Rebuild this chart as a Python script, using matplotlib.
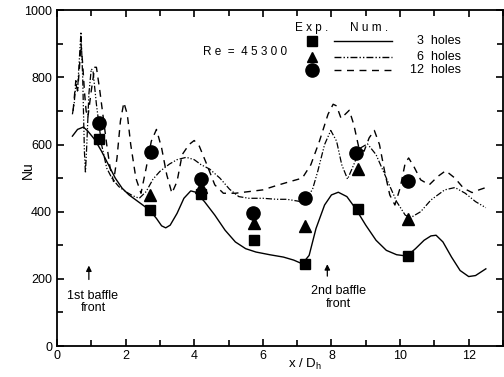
import matplotlib
matplotlib.use("Agg")
import matplotlib.pyplot as plt
from matplotlib.ticker import MultipleLocator

plt.rcParams['font.family'] = ['Liberation Sans', 'DejaVu Sans']

# Numerical curves
x3 = [0.45, 0.6, 0.77, 0.9, 1.1, 1.3, 1.5, 1.7, 1.9, 2.1, 2.3, 2.5, 2.7, 2.9, 3.05, 3.17, 3.3, 3.5,
      3.7, 3.9, 4.05, 4.3, 4.6, 4.9, 5.2, 5.5, 5.8, 6.2, 6.6, 6.9, 7.15, 7.35, 7.55, 7.8, 8.0, 8.2,
      8.45, 8.7, 9.0, 9.3, 9.6, 9.9, 10.2, 10.45, 10.7, 10.9, 11.05, 11.25, 11.5, 11.75, 12.0, 12.2, 12.5]
nu3 = [625, 645, 652, 640, 615, 580, 540, 500, 470, 450, 435, 420, 405, 380, 358, 352, 360, 395,
       440, 462, 458, 430, 390, 345, 310, 290, 280, 272, 265, 256, 245, 270, 350, 420, 450, 458,
       445, 410, 360, 315, 285, 272, 268, 290, 315, 328, 330, 310, 265, 225, 207, 210, 230]

x6 = [0.45, 0.5, 0.55, 0.6, 0.65, 0.7, 0.75, 0.8, 0.83, 0.87, 0.93, 1.0, 1.05, 1.15, 1.3, 1.45,
      1.6, 1.8, 2.0, 2.2, 2.4, 2.6, 2.8, 3.0, 3.28, 3.5, 3.77, 4.0, 4.2, 4.45, 4.75, 5.03, 5.3,
      5.6, 6.0, 6.4, 6.7, 7.0, 7.2, 7.45, 7.6, 7.8, 7.98, 8.15, 8.3, 8.47, 8.65, 8.85, 9.05,
      9.3, 9.6, 9.9, 10.15, 10.3, 10.6, 10.9, 11.3, 11.6, 11.9, 12.2, 12.5]
nu6 = [690, 720, 780, 760, 850, 935, 800, 580, 515, 600, 750, 825, 820, 720, 600, 530,
       500, 475, 460, 448, 440, 460, 497, 520, 542, 555, 562, 555, 540, 527, 500, 467, 445,
       440, 440, 437, 437, 432, 428, 467, 520, 600, 642, 610, 540, 497, 540, 590, 602,
       570, 500, 430, 390, 382, 400, 435, 465, 472, 455, 430, 412]

x12 = [0.47, 0.55, 0.6, 0.65, 0.7, 0.75, 0.8, 0.85, 0.9, 1.0, 1.1, 1.15, 1.25, 1.35, 1.45, 1.55,
       1.65, 1.75, 1.85, 1.95, 2.05, 2.15, 2.3, 2.45, 2.6, 2.75, 2.9, 3.05, 3.2, 3.35, 3.5, 3.65,
       3.85, 4.0, 4.15, 4.35, 4.6, 4.85, 5.2, 5.6, 6.0, 6.4, 6.8, 7.15, 7.4, 7.65, 7.9, 8.05,
       8.15, 8.28, 8.4, 8.52, 8.65, 8.8, 8.95, 9.1, 9.25, 9.4, 9.55, 9.7, 9.85, 10.0, 10.15,
       10.25, 10.4, 10.6, 10.85, 11.1, 11.33, 11.6, 11.85, 12.1, 12.3, 12.5]
nu12 = [700, 790, 760, 820, 900, 840, 760, 700, 680, 760, 830, 830, 760, 680, 600, 530,
        490, 560, 670, 725, 690, 600, 500, 455, 530, 610, 645, 590, 510, 455, 490, 570,
        600, 612, 595, 545, 480, 455, 455, 460, 465, 478, 490, 500, 540, 610, 690, 720,
        715, 678, 690, 702, 660, 590, 580, 620, 642, 600, 520, 450, 420, 470, 545,
        560, 535, 495, 480, 505, 522, 500, 470, 457, 465, 472]

# Experimental points
xs_sq = [1.22, 2.7, 4.2, 5.73, 7.23, 8.76, 10.24]
nu_sq = [617, 405, 452, 317, 245, 407, 269]
xs_tr = [2.72, 4.2, 5.73, 7.23, 8.76, 10.24]
nu_tr = [450, 475, 367, 357, 527, 377]
xs_ci = [1.22, 2.73, 4.2, 5.7, 7.23, 8.73, 10.24]
nu_ci = [665, 577, 497, 397, 440, 575, 492]

DASHDOT = (5, 1.5, 1, 1.5, 1, 1.5)
DASHED = (5, 4)

fig = plt.figure(figsize=(5.04, 3.77), dpi=100)
ax = fig.add_axes([0.113, 0.082, 0.885, 0.891])

ax.plot(x3, nu3, color='black', lw=1.0)
ax.plot(x6, nu6, color='black', lw=0.9, dashes=DASHDOT)
ax.plot(x12, nu12, color='black', lw=1.0, dashes=DASHED)

ax.plot(xs_sq, nu_sq, 's', color='black', ms=7, zorder=5)
ax.plot(xs_tr, nu_tr, '^', color='black', ms=8, zorder=5)
ax.plot(xs_ci, nu_ci, 'o', color='black', ms=9.5, zorder=4)

ax.set_xlim(0, 13)
ax.set_ylim(0, 1000)
ax.xaxis.set_major_locator(MultipleLocator(2))
ax.xaxis.set_minor_locator(MultipleLocator(1))
ax.yaxis.set_major_locator(MultipleLocator(200))
ax.yaxis.set_minor_locator(MultipleLocator(100))
ax.tick_params(which='both', direction='in', top=True, right=True, labelsize=9, width=1.2)
ax.tick_params(which='major', length=5)
ax.tick_params(which='minor', length=4)
ax.tick_params(axis='x', pad=3)
for s in ax.spines.values():
    s.set_linewidth(1.3)

ax.set_xlabel('x / D$_\\mathregular{h}$', fontsize=9.5)
ax.xaxis.set_label_coords(0.557, -0.032, transform=ax.transAxes)
ax.xaxis.label.set_va('top')
ax.set_ylabel('Nu', fontsize=10)
ax.yaxis.set_label_coords(-0.05, 0.524)

# Legend (drawn manually)
ax.text(7.42, 948, 'E x p .', fontsize=8.5, ha='center', va='center')
ax.text(9.1, 948, 'N u m .', fontsize=8.5, ha='center', va='center')
ax.text(5.47, 876, 'R e  =  4 5 3 0 0', fontsize=8.5, ha='center', va='center')
rows = [(907, 's', None, '3  holes'), (862, '^', DASHDOT, '6  holes'),
        (822, 'o', DASHED, '12  holes')]
for yy, mk, ds, lab in rows:
    ax.plot([7.42], [yy], mk, color='black', ms=7 if mk != 'o' else 9.5)
    if ds is None:
        ax.plot([8.08, 9.77], [yy, yy], color='black', lw=1.0)
    else:
        ax.plot([8.08, 9.77], [yy, yy], color='black', lw=1.0, dashes=ds)
    ax.text(11.78, yy, lab, fontsize=9, ha='right', va='center')

# Annotations
ax.annotate('', xy=(0.93, 248), xytext=(0.93, 190),
            arrowprops=dict(arrowstyle='-|>', color='black', lw=0.9, mutation_scale=8))
ax.text(1.05, 132, '1st baffle\nfront', fontsize=9, ha='center', va='center', linespacing=1.05)
ax.annotate('', xy=(7.88, 252), xytext=(7.88, 200),
            arrowprops=dict(arrowstyle='-|>', color='black', lw=0.9, mutation_scale=8))
ax.text(8.2, 144, '2nd baffle\nfront', fontsize=9, ha='center', va='center', linespacing=1.05)

fig.savefig('out.png', dpi=100)
